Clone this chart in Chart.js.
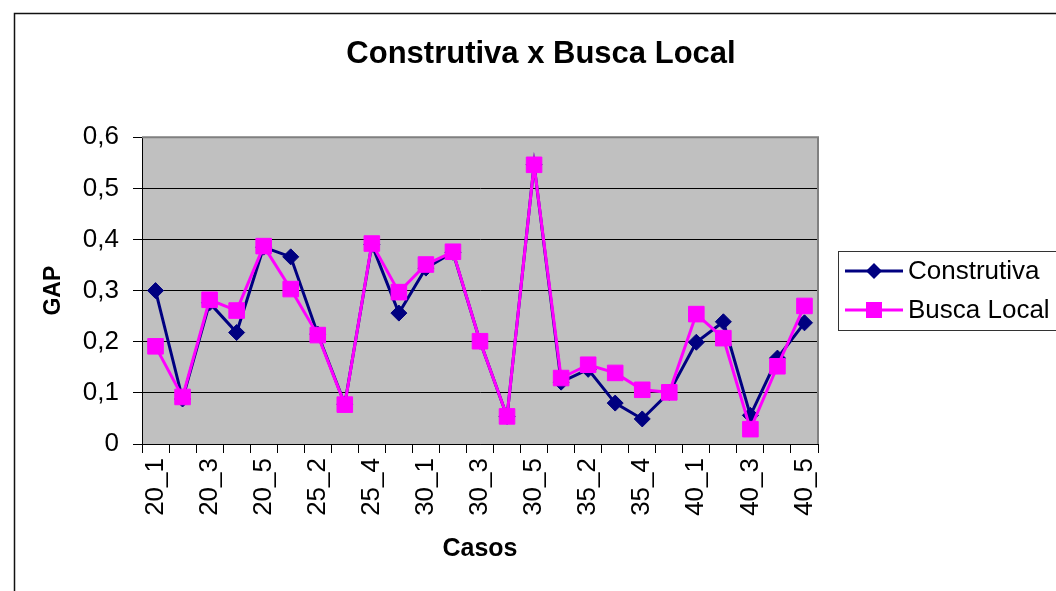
<!DOCTYPE html>
<html>
<head>
<meta charset="utf-8">
<script src="https://cdn.jsdelivr.net/npm/chart.js@4.4.0/dist/chart.umd.min.js"></script>
<style>
  body { margin: 0; background: #fff; }
  #gap-chart { display: block; }
</style>
</head>
<body>
<canvas id="gap-chart" width="1056" height="591"></canvas>
<script>
var cases = ['20_1','20_2','20_3','20_4','20_5','25_1','25_2','25_3','25_4','25_5',
             '30_1','30_2','30_3','30_4','30_5','35_1','35_2','35_3','35_4','35_5',
             '40_1','40_2','40_3','40_4','40_5'];
var construtiva = [0.300, 0.088, 0.276, 0.218, 0.385, 0.366, 0.215, 0.078, 0.390, 0.256,
                   0.344, 0.375, 0.201, 0.054, 0.546, 0.121, 0.146, 0.080, 0.049, 0.101,
                   0.199, 0.239, 0.056, 0.168, 0.237];
var buscaLocal = [0.191, 0.092, 0.282, 0.261, 0.387, 0.303, 0.213, 0.077, 0.392, 0.297,
                  0.351, 0.376, 0.201, 0.054, 0.546, 0.129, 0.155, 0.139, 0.106, 0.101,
                  0.254, 0.207, 0.029, 0.152, 0.270];
var yTicks = [0, 0.1, 0.2, 0.3, 0.4, 0.5, 0.6];

var FONT = "'Liberation Sans', Arial, sans-serif";

// frame, plot background and plot border
var background = {
    id: 'background',
    beforeDraw: function(chart) {
        var ctx = chart.ctx;
        var a = chart.chartArea;
        ctx.save();
        ctx.fillStyle = '#fff';
        ctx.fillRect(0, 0, chart.width, chart.height);
        ctx.strokeStyle = '#111';
        ctx.lineWidth = 1.5;
        ctx.strokeRect(14.5, 13.5, chart.width + 20, chart.height + 20);
        ctx.fillStyle = '#c0c0c0';
        ctx.fillRect(a.left, a.top, a.right - a.left, a.bottom - a.top);
        ctx.restore();
    },
    beforeDatasetsDraw: function(chart) {
        var ctx = chart.ctx;
        var a = chart.chartArea;
        ctx.save();
        ctx.strokeStyle = '#808080';
        ctx.lineWidth = 2;
        ctx.beginPath();
        ctx.moveTo(a.left, a.top);
        ctx.lineTo(a.right, a.top);
        ctx.lineTo(a.right, a.bottom);
        ctx.stroke();
        ctx.restore();
    }
};

// legend box with line + marker
var boxLegend = {
    id: 'boxLegend',
    afterDraw: function(chart) {
        var ctx = chart.ctx;
        var sets = chart.data.datasets;
        ctx.save();
        ctx.strokeStyle = '#333';
        ctx.lineWidth = 1;
        ctx.strokeRect(838.5, 251.5, 240, 79);
        ctx.font = '26px ' + FONT;
        ctx.textBaseline = 'middle';
        ctx.fillStyle = '#000';
        for (var i = 0; i < sets.length; i++) {
            var y = 271 + i * 39;
            var ds = sets[i];
            ctx.strokeStyle = ds.borderColor;
            ctx.lineWidth = 3;
            ctx.beginPath();
            ctx.moveTo(845, y);
            ctx.lineTo(903, y);
            ctx.stroke();
            ctx.fillStyle = ds.borderColor;
            ctx.beginPath();
            if (ds.pointStyle == 'rectRot') {
                ctx.moveTo(874, y - 8);
                ctx.lineTo(882, y);
                ctx.lineTo(874, y + 8);
                ctx.lineTo(866, y);
                ctx.closePath();
            } else {
                ctx.rect(866, y - 8, 16, 16);
            }
            ctx.fill();
            ctx.fillStyle = '#000';
            ctx.fillText(ds.label, 908, y + 1);
        }
        ctx.restore();
    }
};

var ctx = document.getElementById('gap-chart').getContext('2d');
var myChart = new Chart(ctx, {
    type: 'line',
    data: {
        labels: cases,
        datasets: [{
            label: 'Construtiva',
            data: construtiva,
            borderColor: '#000080',
            backgroundColor: '#000080',
            borderWidth: 3,
            pointStyle: 'rectRot',
            pointRadius: 8,
            pointBorderWidth: 1,
            tension: 0,
            order: 1
        }, {
            label: 'Busca Local',
            data: buscaLocal,
            borderColor: '#ff00ff',
            backgroundColor: '#ff00ff',
            borderWidth: 3,
            pointStyle: 'rect',
            pointRadius: 11,
            pointBorderWidth: 1,
            tension: 0,
            order: 0
        }]
    },
    options: {
        responsive: false,
        animation: false,
        layout: { padding: { left: 26, right: 0, top: 0, bottom: 0 } },
        plugins: {
            legend: { display: false },
            tooltip: { enabled: false },
            title: {
                display: true,
                text: 'Construtiva x Busca Local',
                color: '#000',
                font: { family: FONT, size: 31, weight: 'bold' },
                padding: { top: 36, bottom: 64 }
            }
        },
        scales: {
            x: {
                type: 'category',
                offset: true,
                afterFit: function(scale) { scale.height = 147; },
                grid: { offset: true, drawOnChartArea: false, color: '#000', tickLength: 9 },
                border: { color: '#000', width: 1 },
                ticks: {
                    autoSkip: false,
                    minRotation: 90,
                    maxRotation: 90,
                    padding: 5,
                    color: '#000',
                    font: { family: FONT, size: 26 },
                    callback: function(v, i) { return i % 2 == 0 ? this.getLabelForValue(v) : ''; }
                },
                title: {
                    display: true,
                    text: 'Casos',
                    color: '#000',
                    font: { family: FONT, size: 25, weight: 'bold' },
                    padding: { top: 0, bottom: 27 }
                }
            },
            y: {
                min: 0,
                max: 0.6,
                afterFit: function(scale) { scale.width = 116; },
                afterBuildTicks: function(scale) {
                    scale.ticks = yTicks.map(function(v) { return { value: v }; });
                },
                grid: { color: '#000', lineWidth: 1, tickLength: 9 },
                border: { color: '#000', width: 1 },
                ticks: {
                    padding: 14,
                    color: '#000',
                    font: { family: FONT, size: 26 },
                    callback: function(v) { return v == 0 ? '0' : v.toFixed(1).replace('.', ','); }
                },
                title: {
                    display: true,
                    text: 'GAP',
                    color: '#000',
                    font: { family: FONT, size: 23, weight: 'bold' },
                    padding: { top: 14, bottom: 0 }
                }
            },
            // empty scale that keeps room for the legend box on the right
            legendRoom: {
                position: 'right',
                min: 0,
                max: 1,
                afterFit: function(scale) { scale.width = 238; },
                grid: { display: false },
                border: { display: false },
                ticks: { display: false }
            }
        }
    },
    plugins: [background, boxLegend]
});
</script>
</body>
</html>
